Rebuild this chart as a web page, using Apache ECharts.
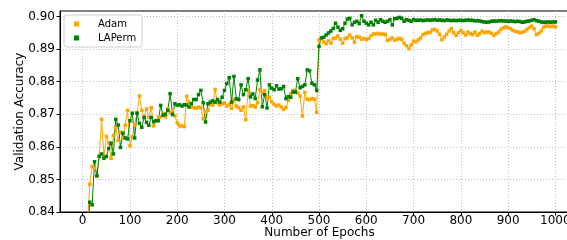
<!DOCTYPE html>
<html>
<head>
<meta charset="utf-8">
<script src="https://cdn.jsdelivr.net/npm/echarts@6/dist/echarts.min.js"></script>
<style>
  html, body { margin: 0; padding: 0; background: #fff; }
  #chart-container { width: 567px; height: 240px; }
</style>
</head>
<body>
<div id="chart-container"></div>
<script>
var epochs = [
  10, 15, 20, 25, 30, 35, 40, 45, 50, 55,
  60, 65, 70, 75, 80, 85, 90, 95, 100, 105,
  110, 115, 120, 125, 130, 135, 140, 145, 150, 155,
  160, 165, 170, 175, 180, 185, 190, 195, 200, 205,
  210, 215, 220, 225, 230, 235, 240, 245, 250, 255,
  260, 265, 270, 275, 280, 285, 290, 295, 300, 305,
  310, 315, 320, 325, 330, 335, 340, 345, 350, 355,
  360, 365, 370, 375, 380, 385, 390, 395, 400, 405,
  410, 415, 420, 425, 430, 435, 440, 445, 450, 455,
  460, 465, 470, 475, 480, 485, 490, 495, 500, 505,
  510, 515, 520, 525, 530, 535, 540, 545, 550, 555,
  560, 565, 570, 575, 580, 585, 590, 595, 600, 605,
  610, 615, 620, 625, 630, 635, 640, 645, 650, 655,
  660, 665, 670, 675, 680, 685, 690, 695, 700, 705,
  710, 715, 720, 725, 730, 735, 740, 745, 750, 755,
  760, 765, 770, 775, 780, 785, 790, 795, 800, 805,
  810, 815, 820, 825, 830, 835, 840, 845, 850, 855,
  860, 865, 870, 875, 880, 885, 890, 895, 900, 905,
  910, 915, 920, 925, 930, 935, 940, 945, 950, 955,
  960, 965, 970, 975, 980, 985, 990, 995, 1000
];

var adam = [
  0.836, 0.8485, 0.854, 0.8535, 0.851, 0.857, 0.8684, 0.857, 0.8632, 0.8612,
  0.8565, 0.8635, 0.866, 0.862, 0.8645, 0.8628, 0.8666, 0.8712, 0.8603, 0.863,
  0.8668, 0.8705, 0.8756, 0.8712, 0.8692, 0.8716, 0.869, 0.872, 0.8664, 0.868,
  0.869, 0.8692, 0.870, 0.8692, 0.8716, 0.8705, 0.8712, 0.8695, 0.8673, 0.8664,
  0.8664, 0.8662, 0.8755, 0.8737, 0.8722, 0.872, 0.8718, 0.8722, 0.872, 0.8686,
  0.8706, 0.8712, 0.873, 0.8728, 0.8776, 0.8735, 0.8728, 0.8732, 0.8735, 0.8725,
  0.873, 0.8718, 0.8745, 0.8725, 0.872, 0.8712, 0.8722, 0.8683, 0.8774, 0.8725,
  0.8726, 0.8722, 0.8735, 0.8775, 0.8765, 0.8772, 0.8748, 0.8752, 0.8738, 0.873,
  0.8725, 0.8728, 0.8722, 0.8715, 0.872, 0.8743, 0.8763, 0.8773, 0.877, 0.8765,
  0.8755, 0.8694, 0.8767, 0.8746, 0.8744, 0.8748, 0.8746, 0.8706, 0.8928, 0.893,
  0.8921, 0.8916, 0.8925, 0.8918, 0.8932, 0.8934, 0.894, 0.893, 0.8918, 0.8932,
  0.8934, 0.8943, 0.8934, 0.8921, 0.8938, 0.8936, 0.893, 0.8932, 0.8929, 0.8932,
  0.894, 0.8946, 0.8946, 0.8948, 0.8946, 0.8946, 0.8944, 0.8926, 0.8929, 0.8934,
  0.8927, 0.893, 0.8933, 0.8929, 0.8918, 0.891, 0.8901, 0.8912, 0.8924, 0.8922,
  0.8928, 0.8934, 0.8944, 0.8948, 0.895, 0.8951, 0.8959, 0.896, 0.8955, 0.8945,
  0.8928, 0.8937, 0.8945, 0.8955, 0.8962, 0.895, 0.8942, 0.895, 0.8957, 0.895,
  0.8943, 0.8952, 0.8947, 0.8944, 0.8952, 0.8942, 0.8947, 0.8955, 0.895, 0.8952,
  0.8952, 0.8948, 0.8942, 0.8947, 0.8952, 0.896, 0.8965, 0.8968, 0.8966, 0.8962,
  0.8957, 0.8954, 0.8953, 0.895, 0.8951, 0.8954, 0.896, 0.8966, 0.897, 0.8962,
  0.8944, 0.8948, 0.8955, 0.8966, 0.897, 0.897, 0.8969, 0.897, 0.8968
];

var laperm = [
  0.832, 0.843, 0.8422, 0.8554, 0.8511, 0.8571, 0.8578, 0.8565, 0.857, 0.8595,
  0.8611, 0.8578, 0.8684, 0.8667, 0.8598, 0.8642, 0.8627, 0.8624, 0.868, 0.8703,
  0.8627, 0.8703, 0.8672, 0.866, 0.869, 0.8675, 0.8666, 0.869, 0.8677, 0.868,
  0.868, 0.8727, 0.8697, 0.87, 0.8712, 0.8763, 0.8699, 0.8732, 0.8728, 0.8729,
  0.8725, 0.8729, 0.8728, 0.8722, 0.8732, 0.8745, 0.8745, 0.876, 0.8773, 0.8735,
  0.8676, 0.8732, 0.8737, 0.8741, 0.8737, 0.8745, 0.8737, 0.8752, 0.8773, 0.8794,
  0.8812, 0.8737, 0.8816, 0.8747, 0.8745, 0.879, 0.876, 0.8775, 0.8809, 0.8753,
  0.8762, 0.8748, 0.8805, 0.8836, 0.8723, 0.876, 0.8719, 0.879, 0.878, 0.8775,
  0.8787, 0.8777, 0.8778, 0.8785, 0.8748, 0.8754, 0.8752, 0.8768, 0.8768, 0.8809,
  0.8781, 0.8785, 0.879, 0.8836, 0.8833, 0.8795, 0.879, 0.8773, 0.8908, 0.8934,
  0.8936, 0.8943, 0.8949, 0.8955, 0.8963, 0.8979, 0.8967, 0.8957, 0.8962, 0.8979,
  0.8992, 0.8994, 0.8974, 0.8982, 0.8985, 0.8978, 0.9002, 0.8985, 0.8979, 0.8974,
  0.8982, 0.8974, 0.8988, 0.8982, 0.899, 0.8985, 0.8982, 0.8985, 0.899, 0.8974,
  0.8993, 0.8994, 0.8997, 0.8994, 0.8985, 0.899, 0.8988, 0.8985, 0.899, 0.8988,
  0.8988, 0.8989, 0.8987, 0.8988, 0.8989, 0.8988, 0.8989, 0.899, 0.8988, 0.8989,
  0.8988, 0.8987, 0.8989, 0.8988, 0.8987, 0.8988, 0.8987, 0.8988, 0.8988, 0.8987,
  0.8988, 0.8989, 0.8988, 0.8988, 0.8986, 0.8987, 0.8986, 0.8984, 0.8983, 0.8982,
  0.8983, 0.8985, 0.8986, 0.8985, 0.8986, 0.8987, 0.8986, 0.8986, 0.8985, 0.8986,
  0.8985, 0.8984, 0.8985, 0.8984, 0.8982, 0.8983, 0.8985, 0.8986, 0.8988, 0.899,
  0.8987, 0.8985, 0.8983, 0.8982, 0.8982, 0.8983, 0.8982, 0.8983, 0.8983
];

var xTicks = [0, 100, 200, 300, 400, 500, 600, 700, 800, 900, 1000];
var yTicks = [0.84, 0.85, 0.86, 0.87, 0.88, 0.89, 0.90];

var dom = document.getElementById("chart-container");
var myChart = echarts.init(dom, null, { renderer: "canvas" });

function pairs(values) {
  return epochs.map(function (e, i) { return [e, values[i]]; });
}

var font = "DejaVu Sans";
var gridLine = { show: true, lineStyle: { color: "#b0b0b0", width: 0.8, type: [1, 2] } };

var option = {
  animation: false,
  grid: {
    left: 60, top: 11, width: 519, height: 201,
    outerBoundsMode: "none", containLabel: false,
    show: true, borderColor: "#000", borderWidth: 1, backgroundColor: "transparent"
  },
  legend: {
    orient: "vertical",
    left: 64, top: 15,
    padding: [4, 6, 4, 10],
    itemGap: 4,
    itemWidth: 5, itemHeight: 5,
    icon: "rect",
    backgroundColor: "rgba(255,255,255,0.8)",
    borderColor: "#d0d0d0", borderWidth: 1, borderRadius: 3,
    textStyle: { fontFamily: font, fontSize: 10, color: "#000", padding: [0, 0, 0, 14] },
    data: ["Adam", "LAPerm"]
  },
  xAxis: {
    type: "value",
    min: -48, max: 1050,
    name: "Number of Epochs",
    nameLocation: "middle",
    nameGap: 15,
    nameMoveOverlap: false,
    nameTextStyle: { fontFamily: font, fontSize: 12, color: "#000" },
    axisLine: { show: true, onZero: false, lineStyle: { color: "#000", width: 1 } },
    axisTick: { show: true, length: 3.5, customValues: xTicks, lineStyle: { color: "#000" } },
    axisLabel: {
      customValues: xTicks, fontFamily: font, fontSize: 12, color: "#000", margin: 3,
      formatter: function (v) { return String(v); }
    },
    splitLine: gridLine
  },
  yAxis: {
    type: "value",
    min: 0.84, max: 0.90165,
    name: "Validation Accuracy",
    nameLocation: "middle",
    nameGap: 34,
    nameMoveOverlap: false,
    nameTextStyle: { fontFamily: font, fontSize: 12, color: "#000" },
    axisLine: { show: true, onZero: false, lineStyle: { color: "#000", width: 1 } },
    axisTick: { show: true, length: 3.5, customValues: yTicks, lineStyle: { color: "#000" } },
    axisLabel: {
      customValues: yTicks, fontFamily: font, fontSize: 12, color: "#000", margin: 5,
      formatter: function (v) { return v.toFixed(2); }
    },
    splitLine: gridLine
  },
  series: [
    {
      name: "Adam",
      type: "line",
      data: pairs(adam),
      symbol: "rect", symbolSize: 3.5, showAllSymbol: true,
      itemStyle: { color: "#ffa500" },
      lineStyle: { color: "#ffa500", width: 1 }
    },
    {
      name: "LAPerm",
      type: "line",
      data: pairs(laperm),
      symbol: "rect", symbolSize: 3.5, showAllSymbol: true,
      itemStyle: { color: "#008000" },
      lineStyle: { color: "#008000", width: 1 }
    }
  ]
};

myChart.setOption(option);
window.addEventListener("resize", myChart.resize);
</script>
</body>
</html>
